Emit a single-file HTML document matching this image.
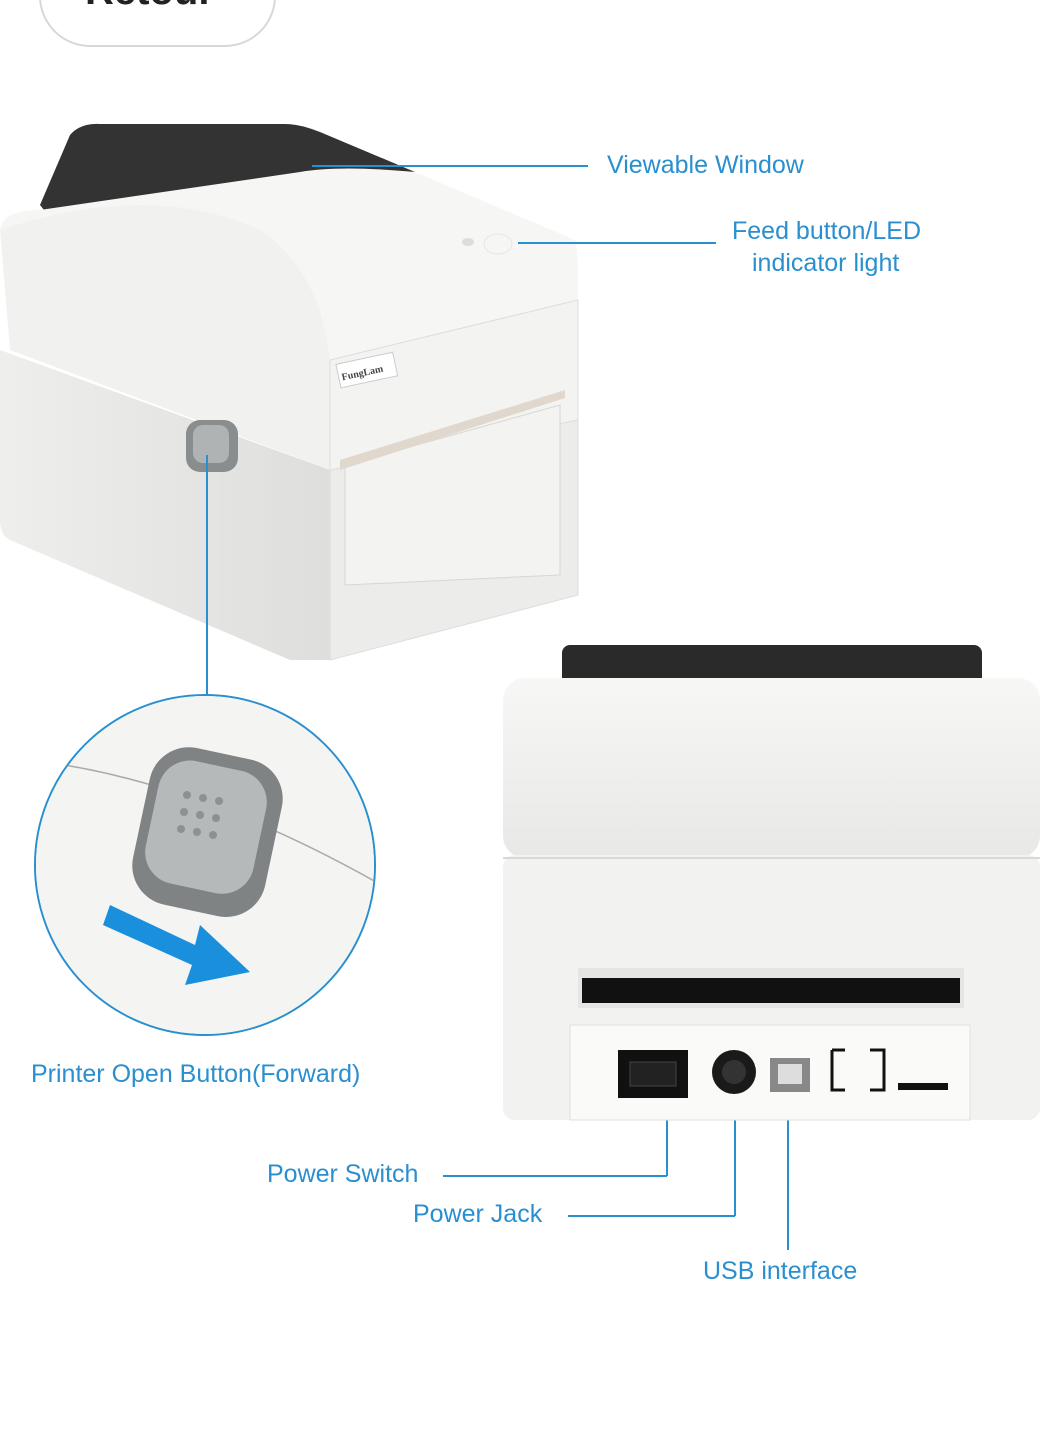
<!DOCTYPE html>
<html><head><meta charset="utf-8"><style>
html,body{margin:0;padding:0;background:#fff;}
svg{display:block}
text{font-family:"Liberation Sans",sans-serif;fill:#2a8fcf}
</style></head><body>
<svg width="1040" height="1440" viewBox="0 0 1040 1440" xmlns="http://www.w3.org/2000/svg">
<defs>
<linearGradient id="wg" x1="0" y1="0" x2="0" y2="1"><stop offset="0" stop-color="#f7f7f5"/><stop offset="1" stop-color="#e8e8e6"/></linearGradient>
<linearGradient id="side" x1="0" y1="0" x2="1" y2="0"><stop offset="0" stop-color="#eeeeec"/><stop offset="1" stop-color="#dededc"/></linearGradient>
</defs>
<!-- top button -->
<rect x="40" y="-60" width="235" height="106" rx="50" fill="#fff" stroke="#d8d8d8" stroke-width="2"/>
<text x="85" y="4" style="font-size:40px;font-weight:bold;fill:#222">Retour</text>

<!-- Printer 1 -->
<path d="M40 205 L70 135 Q80 123 100 124 L285 124 Q300 124 320 132 L415 172 L410 185 L60 230 Z" fill="#333"/>
<path d="M0 230 Q2 210 40 210 L300 172 Q340 165 415 172 L575 240 Q578 250 578 270 L578 470 L330 470 Z" fill="#f6f6f4"/>
<path d="M0 230 Q150 180 260 230 Q320 270 330 360 L330 470 L10 350 Z" fill="#f1f1ef"/>
<path d="M330 360 L578 300 L578 470 L330 470 Z" fill="#f3f3f1" stroke="#ddd"/>
<path d="M0 350 L330 470 L330 660 L290 660 L10 540 Q0 535 0 520 Z" fill="url(#side)"/>
<path d="M330 470 L578 420 L578 595 L330 660 Z" fill="#ececea" stroke="#ddd"/>
<path d="M345 465 L560 405 L560 575 L345 585 Z" fill="#f3f3f1" stroke="#d6d6d4"/>
<path d="M340 460 L565 390 L565 398 L340 470 Z" fill="#e0d8cc"/>
<rect x="338" y="358" width="58" height="24" fill="#fff" stroke="#ccc" transform="rotate(-12 367 371)"/>
<text x="341" y="375" style="font-size:10px;fill:#444;font-family:'Liberation Serif',serif;font-weight:bold" transform="rotate(-12 367 371)">FungLam</text>
<ellipse cx="468" cy="242" rx="6" ry="4" fill="#ddd"/>
<ellipse cx="498" cy="244" rx="14" ry="10" fill="none" stroke="#e6e6e6"/>
<rect x="186" y="420" width="52" height="52" rx="14" fill="#8a8d8e"/>
<rect x="193" y="425" width="36" height="38" rx="10" fill="#b0b3b4"/>

<g stroke="#2a8fcf" stroke-width="2" fill="none">
<line x1="312" y1="166" x2="588" y2="166"/>
<line x1="518" y1="243" x2="716" y2="243"/>
<line x1="207" y1="455" x2="207" y2="695"/>
<circle cx="205" cy="865" r="170"/>
<line x1="443" y1="1176" x2="667" y2="1176"/>
<line x1="667" y1="1176" x2="667" y2="1080"/>
<line x1="568" y1="1216" x2="735" y2="1216"/>
<line x1="735" y1="1216" x2="735" y2="1075"/>
<line x1="788" y1="1250" x2="788" y2="1075"/>
</g>

<clipPath id="cc"><circle cx="205" cy="865" r="169"/></clipPath>
<g clip-path="url(#cc)">
<rect x="30" y="690" width="360" height="350" fill="#f4f4f2"/>
<path d="M30 760 Q200 780 390 890" stroke="#aaa" fill="none" stroke-width="1.5"/>
<rect x="140" y="752" width="135" height="160" rx="40" fill="#7f8384" transform="rotate(12 207 832)"/>
<rect x="150" y="765" width="110" height="125" rx="32" fill="#b6b9ba" transform="rotate(12 207 832)"/>
<g fill="#8d9192">
<circle cx="187" cy="795" r="4"/><circle cx="203" cy="798" r="4"/><circle cx="219" cy="801" r="4"/>
<circle cx="184" cy="812" r="4"/><circle cx="200" cy="815" r="4"/><circle cx="216" cy="818" r="4"/>
<circle cx="181" cy="829" r="4"/><circle cx="197" cy="832" r="4"/><circle cx="213" cy="835" r="4"/>
</g>
<path d="M110 905 L195 945 L200 925 L250 972 L185 985 L192 965 L103 925 Z" fill="#1a90dd"/>
</g>

<!-- Printer 2 -->
<rect x="562" y="645" width="420" height="45" rx="8" fill="#2a2a2a"/>
<rect x="503" y="678" width="537" height="180" rx="22" fill="url(#wg)"/>
<rect x="503" y="855" width="537" height="265" rx="12" fill="#f2f2f0"/>
<line x1="503" y1="858" x2="1040" y2="858" stroke="#d8d8d6" stroke-width="2"/>
<rect x="578" y="968" width="386" height="40" fill="#e5e5e3"/>
<rect x="582" y="978" width="378" height="25" fill="#111"/>
<rect x="570" y="1025" width="400" height="95" fill="#fafaf9" stroke="#e0e0de"/>
<rect x="618" y="1050" width="70" height="48" fill="#111"/>
<rect x="630" y="1062" width="46" height="24" fill="#222" stroke="#444"/>
<circle cx="734" cy="1072" r="22" fill="#1a1a1a"/>
<circle cx="734" cy="1072" r="12" fill="#333"/>
<rect x="770" y="1058" width="40" height="34" fill="#888"/>
<rect x="778" y="1064" width="24" height="20" fill="#ddd"/>
<path d="M832 1050 L845 1050 M832 1050 L832 1090 L845 1090 M870 1050 L884 1050 L884 1090 L870 1090" stroke="#111" stroke-width="3" fill="none"/>
<rect x="898" y="1083" width="50" height="7" fill="#111"/>

<g style="font-size:25px">
<text x="607" y="173">Viewable Window</text>
<text x="732" y="239">Feed button/LED</text>
<text x="752" y="271">indicator light</text>
<text x="31" y="1082">Printer Open Button(Forward)</text>
<text x="267" y="1182">Power Switch</text>
<text x="413" y="1222">Power Jack</text>
<text x="703" y="1279">USB interface</text>
</g>
</svg>
</body></html>
